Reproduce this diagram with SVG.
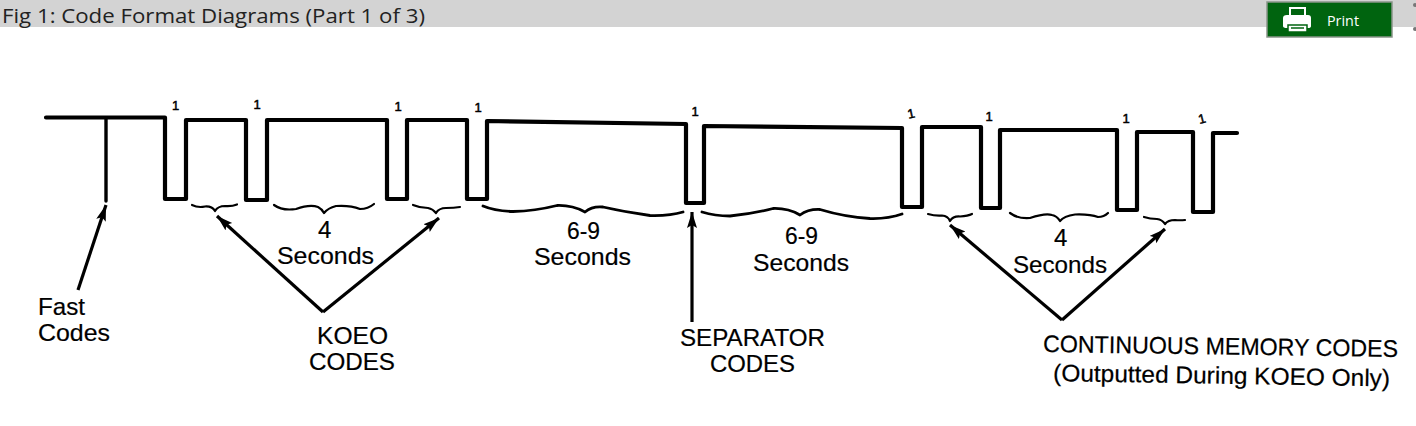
<svg xmlns="http://www.w3.org/2000/svg" width="1416" height="426" viewBox="0 0 1416 426">
<style>
.wave{fill:none;stroke:#000;stroke-width:4.2;stroke-linejoin:round;stroke-linecap:round}
.brace{fill:none;stroke:#000;stroke-width:2.2;stroke-linejoin:round;stroke-linecap:round}
.brace.big{stroke-width:2.8}
.arrow{fill:none;stroke:#000;stroke-width:3.2;marker-end:url(#head)}
.t{font-family:"Liberation Sans",Arial,sans-serif;font-size:24px;fill:#000;stroke:#000;stroke-width:.2}
.one{font-family:"Liberation Sans",Arial,sans-serif;font-size:13px;fill:#000;stroke:#000;stroke-width:.5;text-anchor:middle}
</style>
<defs>
<marker id="head" markerUnits="userSpaceOnUse" markerWidth="18" markerHeight="12" refX="16" refY="5" orient="auto"><path d="M0 0L16 5L0 10L3 5Z" fill="#000"/></marker>
</defs>
<rect width="1416" height="426" fill="#fff"/>
<g id="header">
<rect x="0" y="0" width="1416" height="27" fill="#d3d3d3"/>
<text x="2" y="23" font-family="'Open Sans',sans-serif" font-size="20" fill="#222" textLength="423" lengthAdjust="spacingAndGlyphs">Fig 1: Code Format Diagrams (Part 1 of 3)</text>
<circle cx="1415" cy="5" r="2" fill="#777"/><circle cx="1415" cy="29" r="2" fill="#777"/>
</g>
<g id="print-button">
<rect x="1267" y="2" width="125" height="35" fill="#00640f" stroke="#8a958a" stroke-width="1.5"/>
<path d="M1290 16V8H1305V16Z" fill="none" stroke="#fff" stroke-width="2"/>
<path d="M1283 18Q1283 15 1287 15H1308Q1311 15 1311 18V26Q1311 28 1308 28H1287Q1283 28 1283 26Z" fill="#fff"/>
<path d="M1288 25H1307V32H1288Z" fill="#fff" stroke="#00640f" stroke-width="1.5"/>
<path d="M1291 28H1304" stroke="#00640f" stroke-width="1.5"/>
<text x="1327" y="26" font-family="'Open Sans',sans-serif" font-size="14" fill="#fff" textLength="32" lengthAdjust="spacingAndGlyphs">Print</text>
</g>
<g id="connectors">
<path class="wave" d="M46 117.500H165V199H186V120H246V200H267V120H387V199H407V120H467V199H487V121L686 124V203H704V126L902 128V207H922V127H981V208H1000V130L1117 130V210H1137V132H1193V212H1213V133H1237"/>
<path class="wave" style="stroke-width:3.4" d="M106 119V201"/>
<path class="arrow" d="M78 290L106 205"/>
<path class="arrow" d="M323 312L217 216"/>
<path class="arrow" d="M323 312L439 218"/>
<path class="arrow" d="M692 322V212"/>
<path class="arrow" d="M1062 320L950 225"/>
<path class="arrow" d="M1062 320L1165 229"/>
<g id="braces">
<path class="brace" d="M192 205Q198 208 205 206.5Q212 206 215 211Q218 206 225 206Q232 206.5 237 204.5"/>
<path class="brace" d="M274 205Q282 211 296 209Q310 204 318 207Q322 209 324 213Q328 208 336 206Q350 205 360 209Q368 209 374 204"/>
<path class="brace" d="M413 205Q420 208 428 208Q433 209 436 213Q439 208 446 208Q454 208 460 207"/>
<path class="brace big" d="M483 206Q495 211 513 211.5Q535 211 557 205.5Q572 205 585 212Q592 206 603 207Q625 212 650 215.5Q670 216 683 212"/>
<path class="brace big" d="M702 212Q715 216 730 216Q752 214 773 208.5Q788 208 800 215Q808 209 820 209.5Q845 217 870 218.5Q888 219 902 214"/>
<path class="brace" d="M928 214Q935 216 942 215.5Q948 216 950 221Q953 216 960 216.5Q968 216 972 214"/>
<path class="brace" d="M1010 213Q1018 219 1030 218Q1045 213 1052 215Q1057 216 1060 221Q1064 216 1075 214.5Q1090 214 1098 217Q1104 217 1108 213"/>
<path class="brace" d="M1144 217Q1150 219 1157 219Q1162 219.5 1165 224Q1168 220 1175 220Q1180 220.5 1185 220"/>
</g>
</g>
<g id="ones">
<text class="one" x="175.500" y="110">1</text><text class="one" x="257" y="109">1</text><text class="one" x="398" y="111">1</text><text class="one" x="478" y="112">1</text>
<text class="one" x="695" y="116">1</text><text class="one" x="912" y="118" transform="rotate(-12 912 118)">1</text><text class="one" x="989" y="121">1</text><text class="one" x="1126" y="123">1</text><text class="one" x="1203" y="123" transform="rotate(-14 1203 123)">1</text>
</g>
<g id="label-koeo-4"><text class="t" x="318" y="238">4</text><text class="t" x="277" y="264" textLength="97" lengthAdjust="spacingAndGlyphs">Seconds</text></g>
<g id="label-6-9-a"><text class="t" x="567" y="239" textLength="33" lengthAdjust="spacingAndGlyphs">6-9</text><text class="t" x="534" y="265" textLength="97" lengthAdjust="spacingAndGlyphs">Seconds</text></g>
<g id="label-6-9-b"><text class="t" x="785" y="244" textLength="33" lengthAdjust="spacingAndGlyphs">6-9</text><text class="t" x="753" y="271" textLength="96" lengthAdjust="spacingAndGlyphs">Seconds</text></g>
<g id="label-cm-4"><text class="t" x="1054" y="246">4</text><text class="t" x="1013" y="273" textLength="94" lengthAdjust="spacingAndGlyphs">Seconds</text></g>
<g id="node-fast"><text class="t" x="38" y="315" textLength="47" lengthAdjust="spacingAndGlyphs">Fast</text><text class="t" x="38" y="341" textLength="72" lengthAdjust="spacingAndGlyphs">Codes</text></g>
<g id="node-koeo"><text class="t" x="317" y="344" textLength="71" lengthAdjust="spacingAndGlyphs">KOEO</text><text class="t" x="309" y="369.500" textLength="86" lengthAdjust="spacingAndGlyphs">CODES</text></g>
<g id="node-separator"><text class="t" x="680" y="346" textLength="145" lengthAdjust="spacingAndGlyphs">SEPARATOR</text><text class="t" x="710" y="372" textLength="85" lengthAdjust="spacingAndGlyphs">CODES</text></g>
<g id="node-memory"><text class="t" x="1043" y="352" textLength="355" lengthAdjust="spacingAndGlyphs" transform="rotate(0.8 1043 352)">CONTINUOUS MEMORY CODES</text><text class="t" x="1053" y="381" textLength="337" lengthAdjust="spacingAndGlyphs" transform="rotate(0.9 1053 381)">(Outputted During KOEO Only)</text></g>
</svg>
